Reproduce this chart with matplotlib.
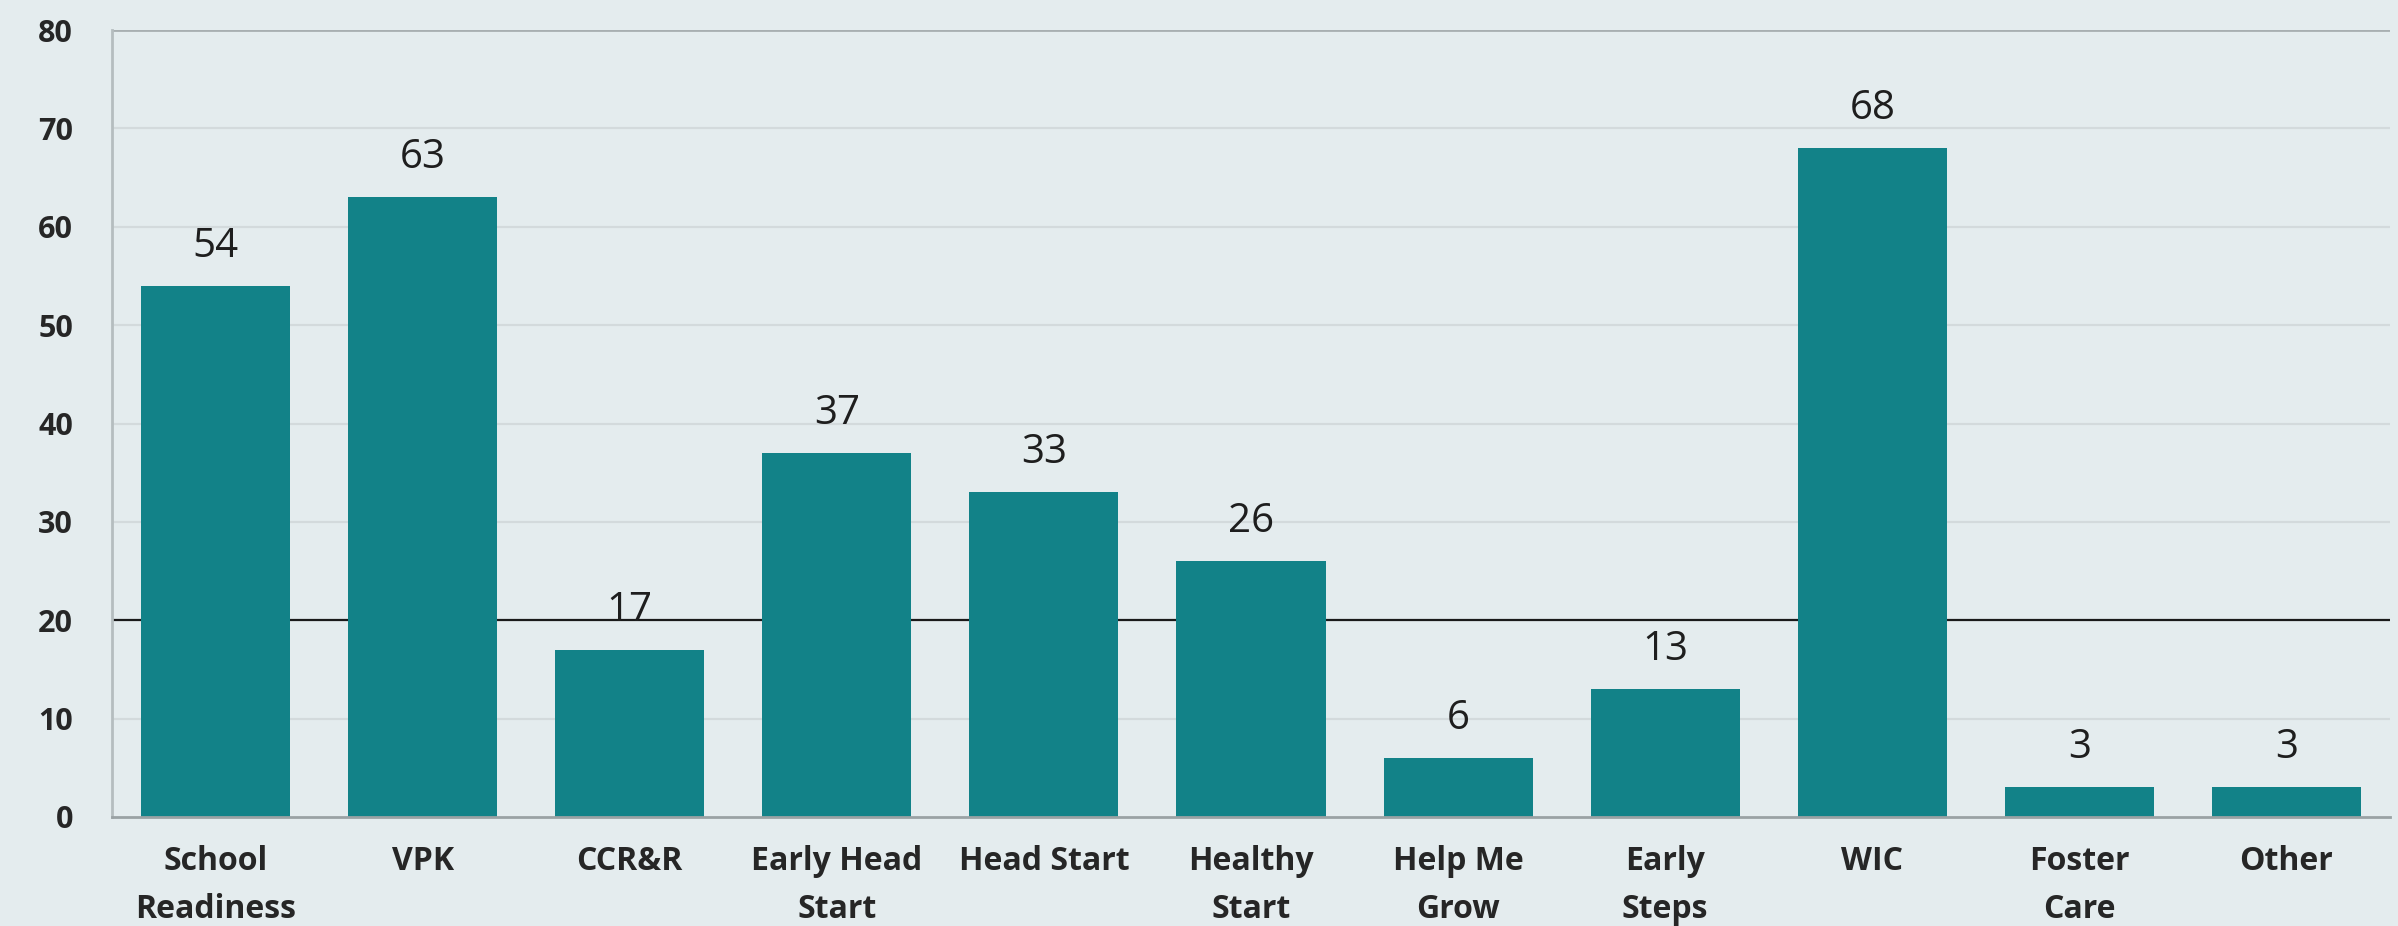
import matplotlib
matplotlib.use("Agg")
import matplotlib.pyplot as plt
import numpy as np

categories = ["School\nReadiness", "VPK", "CCR&R", "Early Head\nStart", "Head Start",
              "Healthy\nStart", "Help Me\nGrow", "Early\nSteps", "WIC", "Foster\nCare", "Other"]
values = [54, 63, 17, 37, 33, 26, 6, 13, 68, 3, 3]
yticks = [0, 10, 20, 30, 40, 50, 60, 70, 80]

BG = "#E4ECEE"
BAR = "#128288"

plt.rcParams['font.family'] = ['Open Sans', 'DejaVu Sans']

fig = plt.figure(figsize=(23.98, 9.26), dpi=100, facecolor=BG)
ax = fig.add_axes([112/2398, (926-817)/926, (2390-112)/2398, (817-30)/926])
ax.set_facecolor(BG)

x = np.arange(len(categories))

# gridlines
for t in yticks:
    if t in (0, 80, 20):
        continue
    ax.axhline(t, color="#D3DADC", lw=1.6, zorder=1)
ax.axhline(20, color="#1a1a1a", lw=1.6, zorder=1.5)
ax.axhline(80, color="#A8AFB1", lw=2.0, zorder=1.5)

ax.bar(x, values, width=0.72, color=BAR, zorder=2)

for xi, v in zip(x, values):
    ax.annotate(str(v), (xi, v), xytext=(0, 21), textcoords="offset points",
                ha="center", va="baseline", fontsize=29, color="#1e1e1e", zorder=3)

ax.set_xlim(-0.5, len(categories) - 0.5)
ax.set_ylim(0, 80)
ax.set_xticks(x)
ax.set_xticklabels(categories, fontsize=23, fontweight="bold", color="#262626",
                   linespacing=1.6)
ax.set_yticks(yticks)
ax.set_yticklabels([str(t) for t in yticks], fontsize=22, fontweight="bold", color="#262626")
ax.tick_params(axis="both", length=0)
ax.tick_params(axis="x", pad=20)
ax.tick_params(axis="y", pad=28)

for s in ["top", "right"]:
    ax.spines[s].set_visible(False)
ax.spines["left"].set_color("#B5BDBF")
ax.spines["left"].set_linewidth(2)
ax.spines["bottom"].set_color("#9AA2A4")
ax.spines["bottom"].set_linewidth(2)
ax.spines["bottom"].set_zorder(2.5)

fig.savefig("out.png", dpi=100, facecolor=BG)
